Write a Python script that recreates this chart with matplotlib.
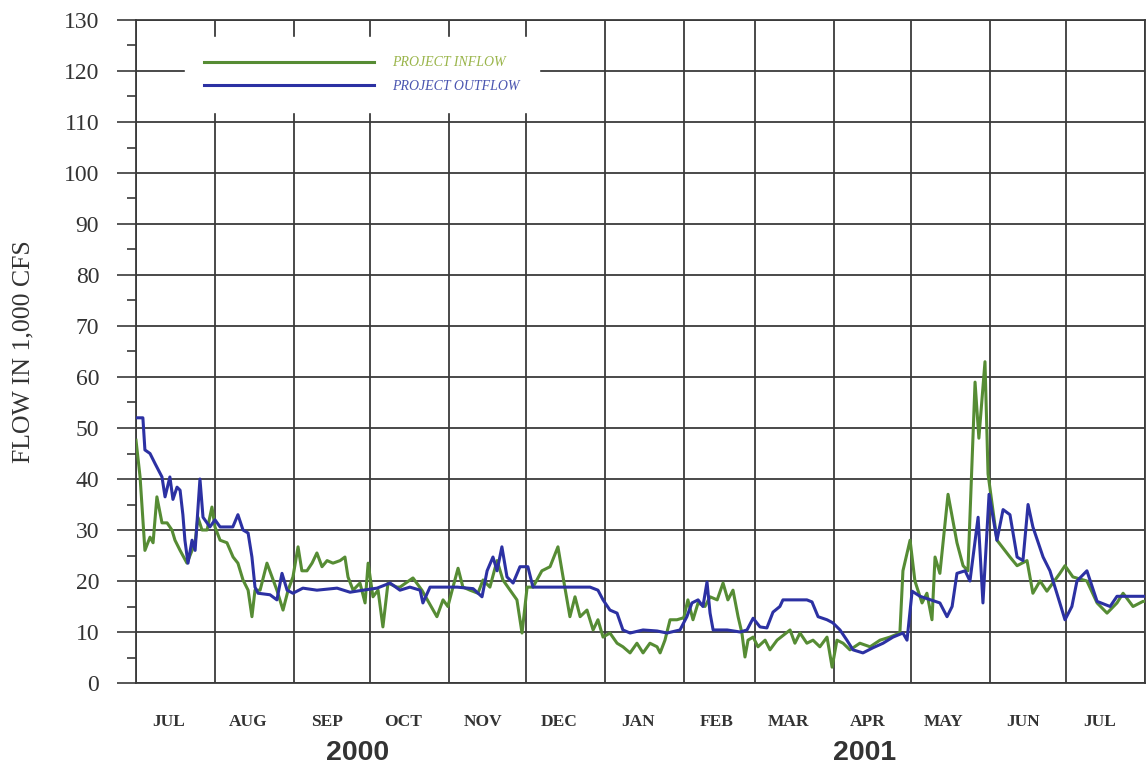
import numpy as np
import matplotlib
matplotlib.use("Agg")
import matplotlib.pyplot as plt

# ---------------- data (flow in 1,000 cfs; day offsets from 2000-07-01) ----------------
inflow_day = [0, 1.6, 3.5, 5.5, 6.7, 8.2, 10.2, 12.2, 14.1, 15.3, 17.3, 20, 22, 23.2, 24.3, 25.9,
              27.9, 29.8, 31, 33, 35.7, 38.1, 40, 42, 44, 45.5, 46.7, 48.7, 51.4, 53.4, 55.3, 57.7,
              59.7, 61.6, 63.6, 65.1, 67.1, 69.1, 71, 73, 75, 77.3, 80.1, 82, 83.2, 85.2, 87.9, 89.9,
              91.1, 93, 95, 96.9, 98.9, 102.4, 103.6, 108.7, 112.2, 118.1, 120.5, 122.4, 124.4, 126.4,
              128.3, 131.1, 134.2, 136.2, 138.9, 141.7, 144, 146.8, 149.5, 151.5, 153.5, 155.8, 159.3,
              162.5, 165.6, 167.6, 170.3, 172.3, 174.3, 177, 179.4, 181.3, 183.3, 186, 188.8, 191.1,
              193.9, 196.6, 199, 201.7, 204.5, 205.7, 207.6, 209.6, 212.3, 215, 216.6, 218.6, 220.6,
              223.3, 225.3, 228.1, 230.4, 232.3, 234.3, 236.3, 237.8, 239, 240.2, 242.2, 244.1, 246.9,
              248.8, 251.6, 256.7, 258.6, 260.6, 263.3, 265.7, 268.4, 271.2, 273.2, 275.1, 277.5,
              280.2, 284.1, 288.1, 292, 295.9, 299.8, 301, 303.8, 305.7, 308.5, 310.4, 312.4, 313.6,
              315.5, 318.7, 322.2, 324.6, 326.5, 329.3, 330.8, 333.2, 334.4, 337.9, 343, 345.8, 349.7,
              352, 354.8, 357.5, 362.6, 364.6, 367.7, 373.2, 377.2, 381.1, 385, 387.4, 391.3, 395.2, 397]
inflow_cfs = [47.6, 40.4, 26, 28.6, 27.5, 36.5, 31.4, 31.4, 30, 28, 26, 23.5, 26, 27.5, 32.5, 30,
              30, 34.5, 30.6, 28, 27.5, 24.7, 23.5, 20.2, 18.2, 13, 18.2, 18.2, 23.5, 20.8, 18.2, 14.3,
              18.2, 20.8, 26.7, 22, 22, 23.5, 25.5, 22.8, 24, 23.5, 24, 24.7, 20.8, 18.2, 19.6, 15.7,
              23.5, 16.9, 18.2, 11, 19.6, 18.8, 18.8, 20.6, 18.2, 13, 16.3, 15, 18.8, 22.5,
              18.8, 18.2, 17.6, 20.2, 18.8, 24, 20.2, 18.2, 16.3, 9.8, 18.8, 18.8, 22,
              22.8, 26.7, 20.8, 13, 16.9, 13, 14.3, 10.4, 12.4, 9, 9.8, 7.8, 7.1,
              5.9, 7.8, 5.9, 7.8, 7.1, 5.9, 8.4, 12.4, 12.4, 12.8, 16.3, 12.4, 15.7,
              15, 16.9, 16.3, 19.6, 16.3, 18.2, 13, 9.8, 5.1, 8.4, 9, 7.1, 8.4,
              6.5, 8.4, 10.4, 7.8, 9.8, 7.8, 8.4, 7.1, 9, 3.1, 8.4, 7.8,
              6.5, 7.8, 7.1, 8.4, 9, 9.8, 22, 28, 20, 15.7, 17.6, 12.4, 24.7,
              21.5, 37, 27.5, 23, 22, 59, 48, 63, 41, 28, 24.7, 23, 24,
              17.6, 20, 18, 21.5, 23, 20.8, 20, 15.7, 13.7, 15.7, 17.6, 15, 16, 16]

outflow_day = [0.4, 2.7, 3.5, 5.5, 7.5, 10.2, 11.4, 13.3, 14.5, 16.1, 17.3, 18.4, 19.2, 20.4, 22,
               23.2, 25.1, 26.3, 29, 31, 33, 38, 40, 42, 44, 45.5, 46.7, 47.9, 52.6, 55.3, 57.3,
               59.3, 61.6, 65.5, 71, 78.9, 84, 89.1, 94.6, 99.7, 103.6, 107.5, 111.5, 112.6, 115.4,
               126, 132.3, 135.8, 137.8, 140.1, 141.7, 143.6, 145.6, 148, 150.7, 153.8, 155.8, 167.6,
               178.2, 181.3, 183.3, 186, 188.8, 191.1, 193.9, 199, 204.5, 208.4, 213.5, 216.2, 218.2,
               220.6, 222.5, 224.1, 225.3, 226.5, 232, 237.1, 239.8, 242.2, 244.9, 247.6, 250, 252.7,
               253.9, 263.3, 265.3, 267.7, 271.2, 273.5, 276.3, 279, 281.4, 285.3, 289.2, 293.2,
               297.1, 301, 302.6, 304.6, 307.7, 315.5, 318.3, 320.3, 322.2, 325.4, 327.3, 330.5,
               332.4, 334.8, 337.9, 340.3, 343, 345.8, 348.1, 350.1, 352, 356, 358.7, 362.6, 364.6,
               367.3, 369.3, 373.2, 377.2, 382.3, 385, 390.1, 397]
outflow_cfs = [52, 52, 45.7, 45, 43, 40.4, 36.5, 40.4, 36, 38.4, 37.8, 33, 28, 23.5, 28,
               26, 40, 32.5, 30.6, 32, 30.6, 30.6, 33, 30, 29.4, 24.7, 18.8, 17.6, 17.3, 16.3, 21.5,
               18.2, 17.6, 18.6, 18.2, 18.6, 17.8, 18.2, 18.6, 19.6, 18.2, 18.8, 18.2, 15.7, 18.8,
               18.8, 18.5, 16.9, 22, 24.7, 22, 26.7, 20.8, 19.6, 22.8, 22.8, 18.8, 18.8,
               18.8, 18.2, 16.3, 14.3, 13.7, 10.4, 9.8, 10.4, 10.2, 9.8, 10.4, 13, 15.7,
               16.3, 15, 19.8, 13.7, 10.4, 10.4, 10, 10.4, 12.7, 11, 10.8, 13.9, 15,
               16.3, 16.3, 15.9, 13, 12.4, 11.8, 10.4, 8.4, 6.5, 5.9, 6.9, 7.8,
               9, 9.8, 8.4, 18, 17, 15.7, 13, 15, 21.5, 22, 20, 32.5,
               15.7, 37, 28, 34, 33, 24.7, 24, 35, 30.6, 24.7, 22, 15.7, 12.4,
               15, 20, 22, 16, 15, 17, 17, 17]

month_labels = ["JUL", "AUG", "SEP", "OCT", "NOV", "DEC", "JAN", "FEB", "MAR", "APR", "MAY", "JUN", "JUL"]
year_labels = ["2000", "2001"]
series_names = ["PROJECT INFLOW", "PROJECT OUTFLOW"]

# ---------------- helpers ----------------
start = np.datetime64("2000-07-01T00:00")
def to_dates(days):
    return start + (np.asarray(days) * 24 * 60).astype("timedelta64[m]")

GREEN = "#568c34"
BLUE = "#2c31a3"
GRID = "#3a3a3a"
SERIF = ["Liberation Serif", "DejaVu Serif"]

fig = plt.figure(figsize=(11.48, 7.73), dpi=100)
ax = fig.add_axes([136 / 1148, 1 - 683 / 773, (1145 - 136) / 1148, (683 - 20) / 773])

ax.plot(to_dates(inflow_day), inflow_cfs, color=GREEN, lw=2.2, label=series_names[0], zorder=3)
ax.plot(to_dates(outflow_day), outflow_cfs, color=BLUE, lw=2.2, label=series_names[1], zorder=4)

ax.set_xlim(np.datetime64("2000-07-01"), np.datetime64("2001-08-01"))
ax.set_ylim(0, 130)

# x: gridlines at month starts, labels between
month_starts = np.arange(np.datetime64("2000-07"), np.datetime64("2001-09"), np.timedelta64(1, "M")).astype("datetime64[D]")
ax.set_xticks(month_starts)
ax.set_xticklabels([])
label_pos = month_starts[:-1] + np.timedelta64(13, "D")
ax.set_xticks(label_pos, minor=True)
ax.set_xticklabels(month_labels, minor=True, fontsize=12.5, fontweight="bold", family=SERIF, color="#333333")
ax.tick_params(axis="x", which="both", length=0)
ax.tick_params(axis="x", which="minor", pad=22)

# y ticks
ax.set_yticks(np.arange(0, 131, 10))
ax.set_yticks(np.arange(5, 130, 10), minor=True)
ax.tick_params(axis="y", which="major", length=13.5, width=1.2, color=GRID, pad=13,
               labelsize=17, labelcolor="#333333")
ax.tick_params(axis="y", which="minor", length=6.5, width=1.2, color=GRID)
for t in ax.get_yticklabels():
    t.set_family(SERIF)

ax.grid(True, which="major", color=GRID, lw=1.3, zorder=1)
ax.set_axisbelow(True)
for side in ["left", "bottom", "top", "right"]:
    ax.spines[side].set_color(GRID)
    ax.spines[side].set_linewidth(1.3)

ax.set_ylabel("FLOW IN 1,000 CFS", family=SERIF, fontsize=18.5, color="#333333")
ax.yaxis.set_label_coords((34 - 136) / 1009, 0.5)

# year labels
trans = ax.get_xaxis_transform()
for yr, d in zip(year_labels, [np.datetime64("2000-09-26"), np.datetime64("2001-04-13")]):
    ax.text(d, -0.106, yr, transform=trans, ha="center", va="center",
            fontsize=20.5, fontweight="bold", family=["Liberation Sans", "DejaVu Sans"], color="#333333")

# legend
leg = ax.legend(loc="upper left", bbox_to_anchor=((185 - 136) / 1009, (683 - 37) / 663),
                borderaxespad=0, frameon=True, facecolor="white", edgecolor="white", framealpha=1,
                fancybox=False, handlelength=12.2, handletextpad=1.3, borderpad=1.4, labelspacing=0.75,
                prop={"family": SERIF, "style": "italic", "size": 10},
                labelcolor=["#9ab54a", "#4a55b0"])
leg.set_zorder(5)

fig.savefig("out.png", dpi=100, facecolor="white")
